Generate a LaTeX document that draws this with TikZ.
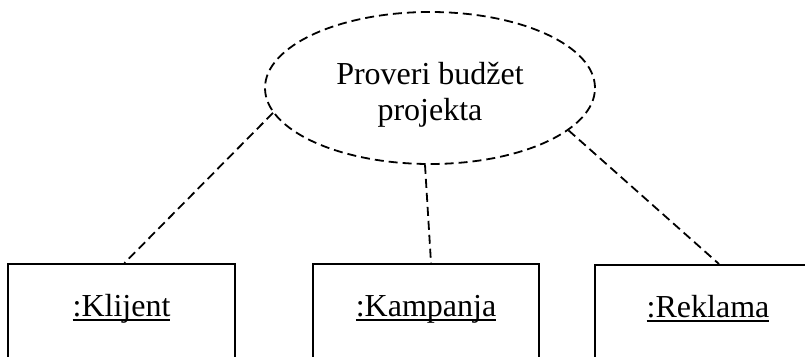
\documentclass[tikz,border=0pt]{standalone}
\usepackage{fontspec}
\setmainfont{Liberation Serif}
\usetikzlibrary{calc, shapes, positioning}
\tikzset{
    ellipsenode/.style = {draw, ellipse, dash pattern=on 9pt off 5pt, line width=1.8pt, inner sep = 0em, 
      minimum width=330pt, minimum height=152pt},
    objectnode/.style = {draw, rectangle, line width=2pt, inner sep = 0em, minimum width=226pt, 
      minimum height=130pt, anchor=north},
    textnode/.style  = {draw=none, fill=none, rectangle, inner sep = 0em, font=\fontsize{32}{36}\selectfont},
    link/.style = {black, dash pattern=on 9pt off 5pt, line width=1.8pt},
    every text node part/.style={align=center}
}
\newcommand{\objname}[1]{\setbox0\hbox{#1}\rlap{\rule[-5pt]{\wd0}{2pt}}\box0}

\begin{document}
\begin{tikzpicture}[x=1pt, y=1pt]
\clip (0,0) rectangle (805,-356);
\node [name=budget, ellipsenode] at (430,-88) {};
\node [name=budgettext, textnode, yshift=-6.5pt] at (budget) {Proveri budžet\\projekta};
\node [name=klijent, objectnode, minimum width=227pt] at (121.5,-263) {};
\node [name=kampanja, objectnode, right=76pt of klijent.north east, anchor=north west] {};
\node [name=reklama, objectnode, right=54pt of kampanja.north east, anchor=north west, yshift=-1pt] {};
\node [name=klijentname, textnode, below=53pt of klijent.north, anchor=base] {\objname{:Klijent}};
\node [name=kampanjaname, textnode, below=53pt of kampanja.north, anchor=base] {\objname{:Kampanja}};
\node [name=reklamaname, textnode, below=53pt of reklama.north, anchor=base] {\objname{:Reklama}};
\draw [link] (budget.189) -- ([xshift=3pt]klijent.north);
\draw [link] ([xshift=-5pt]budget.south) -- ([xshift=5pt]kampanja.north);
\draw [link] (budget.343) -- ([xshift=11pt]reklama.north);
\end{tikzpicture}
\end{document}
